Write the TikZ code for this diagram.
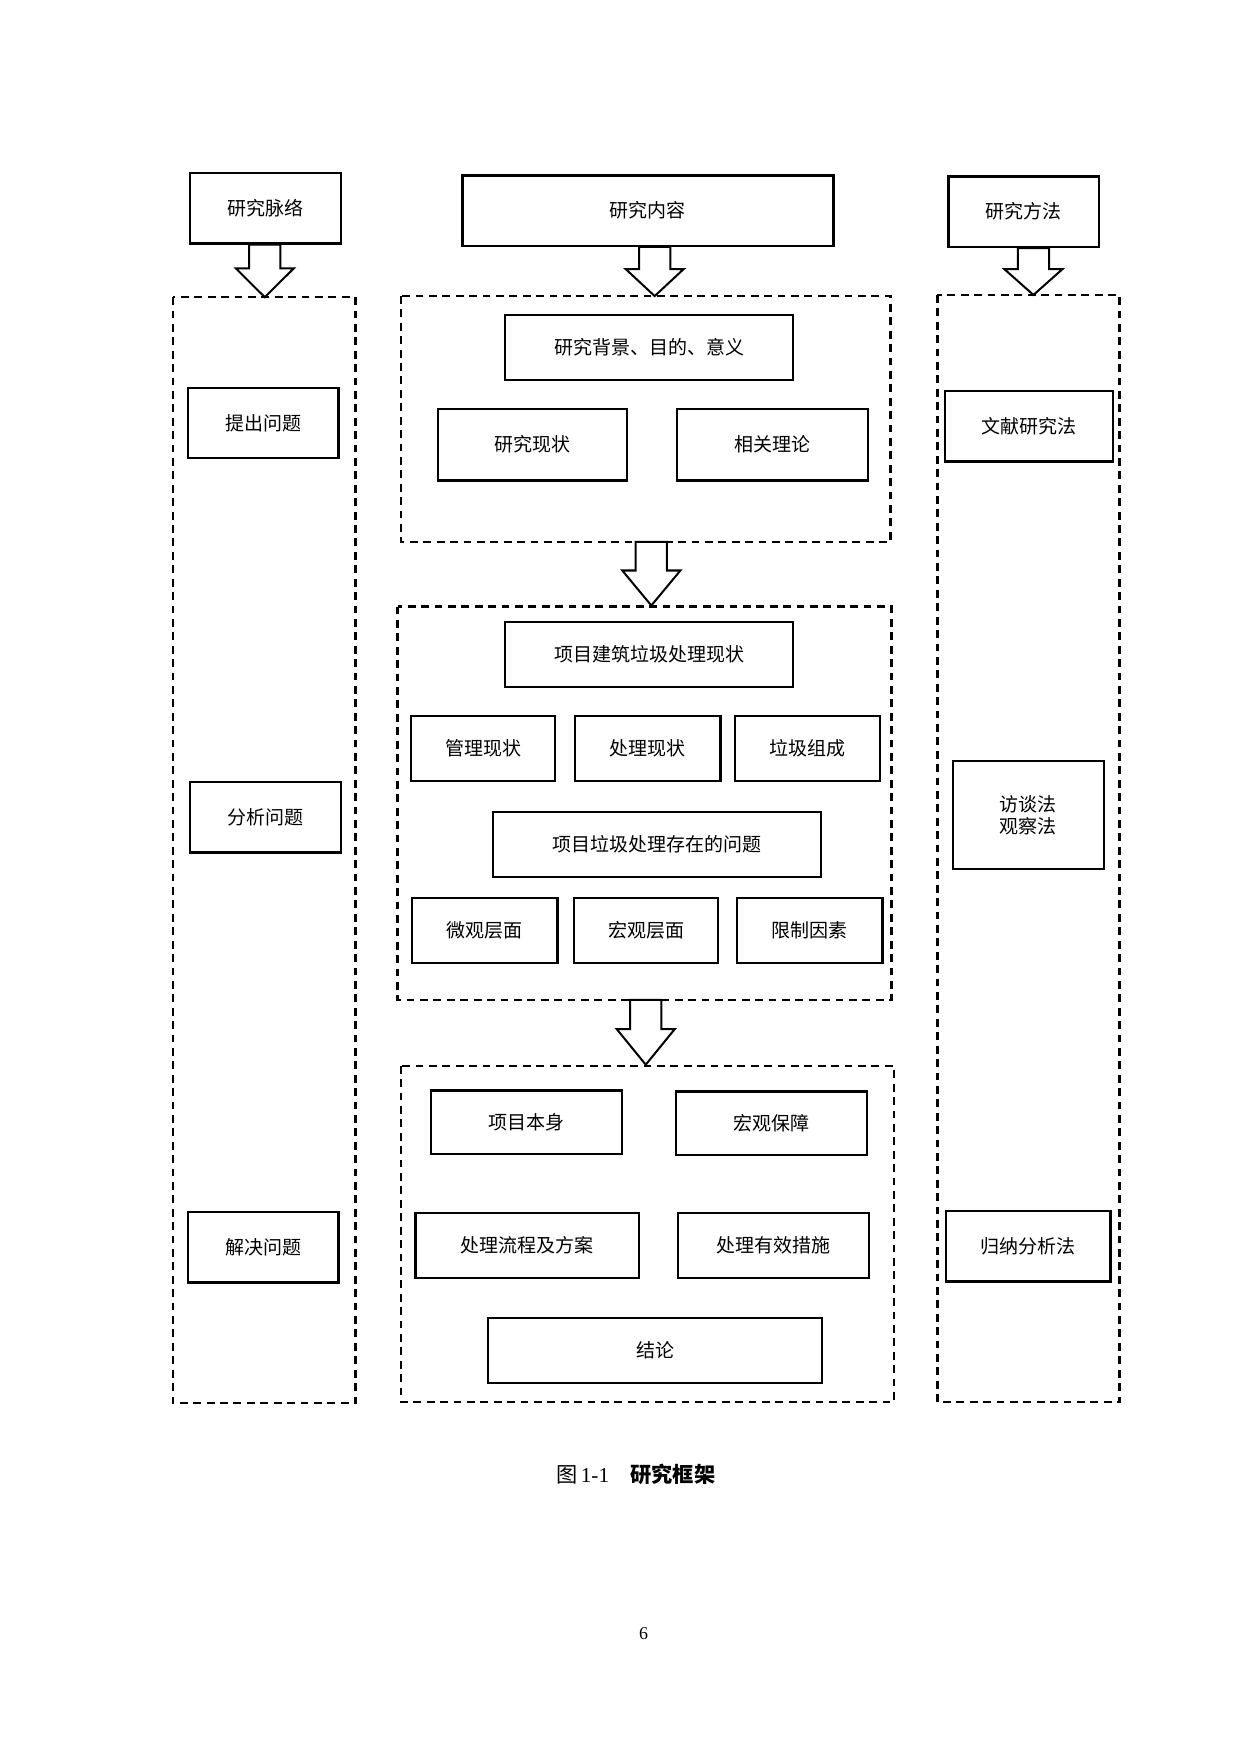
\documentclass[tikz,border=0pt]{standalone}
\usepackage{fontspec}
\setmainfont{Liberation Serif}
\newfontfamily\cjk{Noto Sans CJK SC}
\begin{document}
\begin{tikzpicture}[x=1pt,y=-1pt,
 bx/.style={draw,line width=2pt},
 dbx/.style={draw,line width=2.2pt,dash pattern=on 7pt off 5pt},
 lb/.style={font=\cjk\fontsize{17}{20}\selectfont,align=center},
 har/.style={draw,line width=1.8pt,fill=white}]
\useasboundingbox (0,0) rectangle (1110,1570);
\newcommand\bxn[6]{\draw[bx] (#2,#4) rectangle (#3,#5); \node[lb] (#1) at ({(#2+#3)/2},{(#4+#5)/2}) {#6};}
\newcommand\harr[4]{\draw[har] ({#1-14},#2) -- ({#1+14},#2) -- ({#1+14},{#2+0.45*(#3-#2)}) -- ({#1+26},{#2+0.45*(#3-#2)}) -- (#1,#3) -- ({#1-26},{#2+0.45*(#3-#2)}) -- ({#1-14},{#2+0.45*(#3-#2)}) -- cycle; \coordinate (#4) at (#1,#3);}
\bxn{a}{170}{305}{155}{218}{研究脉络}
\bxn{b}{414}{746}{157}{220}{研究内容}
\bxn{c}{849}{984}{158}{221}{研究方法}
\harr{237}{219}{266}{ha}
\harr{586}{221}{265}{hb}
\harr{925}{222}{264}{hc}
\draw[dbx] (155,266) rectangle (318,1256);
\draw[dbx] (359,265) rectangle (797,485);
\draw[dbx] (839,264) rectangle (1002,1255);
\draw[dbx] (356,543) rectangle (798,895);
\draw[dbx] (359,954) rectangle (800,1255);
\harr{583}{485}{542}{hd}
\harr{578}{895}{953}{he}
\bxn{d1}{452}{710}{282}{340}{研究背景、目的、意义}
\bxn{d2}{392}{561}{366}{430}{研究现状}
\bxn{d3}{606}{777}{366}{430}{相关理论}
\bxn{e1}{452}{710}{557}{615}{项目建筑垃圾处理现状}
\bxn{e2}{368}{497}{641}{699}{管理现状}
\bxn{e3}{515}{645}{641}{699}{处理现状}
\bxn{e4}{658}{788}{641}{699}{垃圾组成}
\bxn{e5}{441}{735}{727}{785}{项目垃圾处理存在的问题}
\bxn{e6}{369}{499}{804}{862}{微观层面}
\bxn{e7}{514}{643}{804}{862}{宏观层面}
\bxn{e8}{660}{790}{804}{862}{限制因素}
\bxn{f1}{386}{557}{976}{1033}{项目本身}
\bxn{f2}{605}{776}{977}{1034}{宏观保障}
\bxn{f3}{372}{572}{1086}{1144}{处理流程及方案}
\bxn{f4}{607}{778}{1086}{1144}{处理有效措施}
\bxn{f5}{437}{736}{1180}{1238}{结论}
\bxn{l1}{168}{303}{347}{410}{提出问题}
\bxn{l2}{170}{305}{700}{763}{分析问题}
\bxn{l3}{168}{303}{1085}{1148}{解决问题}
\bxn{r1}{846}{996}{350}{413}{文献研究法}
\bxn{r2}{853}{988}{681}{778}{访谈法\\观察法}
\bxn{r3}{847}{994}{1084}{1147}{归纳分析法}
\node[font=\fontsize{19}{22}\selectfont] (cap) at (569,1320) {{\cjk 图}\,1-1\quad{\cjk\bfseries 研究框架}};
\node[font=\fontsize{16}{18}\selectfont] (pg) at (576,1462) {6};
\end{tikzpicture}
\end{document}
